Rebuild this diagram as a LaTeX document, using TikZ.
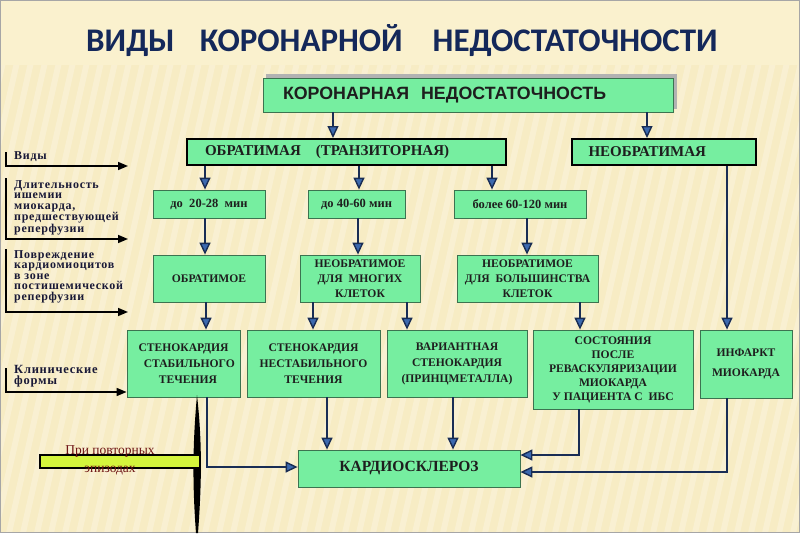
\documentclass[tikz,border=0pt]{standalone}
\usepackage{fontspec}
\setmainfont{Liberation Serif}
\newfontfamily\titlefont{Carlito}
\newfontfamily\boxsans{Liberation Sans}
\newfontfamily\lblfont[LetterSpace=6]{Liberation Serif}
\usetikzlibrary{arrows.meta}
\definecolor{bgc}{RGB}{247,236,196}
\definecolor{bgtop}{RGB}{250,241,206}
\definecolor{gfill}{RGB}{118,238,160}
\definecolor{gbord}{RGB}{60,115,80}
\definecolor{navy}{RGB}{25,45,85}
\definecolor{tipblue}{RGB}{60,105,175}
\definecolor{titlec}{RGB}{20,40,90}
\definecolor{txt}{RGB}{30,30,30}
\definecolor{lblc}{RGB}{25,25,55}
\definecolor{ygreen}{RGB}{212,245,60}
\definecolor{dred}{RGB}{110,20,20}
\begin{document}
\begin{tikzpicture}[x=1pt,y=-1pt,
  gbox/.style={draw=gbord, fill=gfill, line width=0.8, inner sep=0, align=center, text=txt,
    font=\bfseries\fontsize{11.6}{15}\selectfont},
  bbox/.style={draw=black, fill=gfill, line width=2, inner sep=0, text=txt},
  conn/.style={draw=navy, line width=2.8, -{Triangle[length=12pt,width=11pt,fill=tipblue,line width=1.4pt]}},
  lbr/.style={draw=black, line width=1.6, -{Triangle[length=10pt,width=8pt]}},
  lbl/.style={anchor=north west, inner sep=0, align=left, text=lblc,
    font=\lblfont\bfseries\fontsize{12}{10.5}\selectfont}
]
\useasboundingbox (0,0) rectangle (800,533);
\fill[bgc] (0,0) rectangle (800,533);
\fill[bgtop] (0,0) rectangle (800,65);
\begin{scope}
  \clip (0,65) rectangle (800,533);
  \foreach \i in {0,14,...,980} {
    \fill[white,opacity=0.25] (\i-120,533) -- (\i-114,533) -- (\i+6,0) -- (\i,0) -- cycle;
  }
\end{scope}
\draw[gray!70, line width=1] (0.5,0.5) rectangle (799.5,532.5);

% title
\node[font=\titlefont\bfseries\fontsize{33}{38}\selectfont, text=titlec, inner sep=0] (title) at (402,41)
  {ВИДЫ\hspace{25pt}КОРОНАРНОЙ\hspace{30pt}НЕДОСТАТОЧНОСТИ};

% top box with shadow
\fill[gray!60] (266,73.5) rectangle (677,109);
\node[draw=gbord, fill=gfill, line width=0.8, minimum width=410, minimum height=34, text width=370, inner xsep=20, inner ysep=0,
  align=left, text=txt, font=\boxsans\bfseries\fontsize{17.8}{20}\selectfont] (top) at (468,95)
  {КОРОНАРНАЯ\ \ НЕДОСТАТОЧНОСТЬ};

% level 2
\node[bbox, minimum width=319, minimum height=26, text width=283, inner xsep=18, align=left,
  font=\bfseries\fontsize{15}{16}\selectfont] (obr) at (346.5,152) {ОБРАТИМАЯ\ \ \ (ТРАНЗИТОРНАЯ)};
\node[bbox, minimum width=167, minimum height=26, text width=150, inner xsep=17, align=left,
  font=\bfseries\fontsize{15}{16}\selectfont] (neobr) at (663.5,152) {НЕОБРАТИМАЯ};

% durations
\node[gbox, minimum width=112, minimum height=28, font=\bfseries\fontsize{12.5}{15}\selectfont] (t1) at (209,204) {до\ \ 20-28\ \ мин};
\node[gbox, minimum width=97, minimum height=28, font=\bfseries\fontsize{12.5}{15}\selectfont] (t2) at (356.5,204) {до 40-60 мин};
\node[gbox, minimum width=132, minimum height=28, font=\bfseries\fontsize{12.5}{15}\selectfont] (t3) at (520,204) {более 60-120 мин};

% damage
\node[gbox, minimum width=112, minimum height=47] (d1) at (209,278.5) {ОБРАТИМОЕ};
\node[gbox, minimum width=120, minimum height=47] (d2) at (360,278.5) {НЕОБРАТИМОЕ\\ДЛЯ\ \ МНОГИХ\\КЛЕТОК};
\node[gbox, minimum width=141, minimum height=47] (d3) at (527.5,278.5) {НЕОБРАТИМОЕ\\ДЛЯ\ \ БОЛЬШИНСТВА\\КЛЕТОК};

% clinical forms
\node[gbox, minimum width=113, minimum height=67, font=\bfseries\fontsize{11.6}{16}\selectfont] (c1) at (183.5,363.5) {СТЕНОКАРДИЯ\\\ \ \ \ СТАБИЛЬНОГО\\\ \ \ ТЕЧЕНИЯ};
\node[gbox, minimum width=133, minimum height=67, font=\bfseries\fontsize{11.6}{16}\selectfont] (c2) at (313.5,363.5) {СТЕНОКАРДИЯ\\НЕСТАБИЛЬНОГО\\ТЕЧЕНИЯ};
\node[gbox, minimum width=140, minimum height=67, font=\bfseries\fontsize{11.6}{16}\selectfont] (c3) at (457,363.5) {ВАРИАНТНАЯ\\СТЕНОКАРДИЯ\\(ПРИНЦМЕТАЛЛА)};
\node[gbox, minimum width=160, minimum height=79, font=\bfseries\fontsize{11.6}{14}\selectfont] (c4) at (613,369.5)
  {СОСТОЯНИЯ\\ПОСЛЕ\\РЕВАСКУЛЯРИЗАЦИИ\\МИОКАРДА\\У ПАЦИЕНТА С\ \ ИБС};
\node[gbox, minimum width=92, minimum height=68, font=\bfseries\fontsize{11.6}{20}\selectfont] (c5) at (746,364) {ИНФАРКТ\\МИОКАРДА};

% cardiosclerosis
\node[gbox, minimum width=222, minimum height=37, font=\bfseries\fontsize{15.5}{17}\selectfont] (ks) at (409,468.5) {КАРДИОСКЛЕРОЗ};

% connectors
\draw[conn] (top.south -| 333,0) -- (obr.north -| 333,0);
\draw[conn] (top.south -| 647,0) -- (neobr.north -| 647,0);
\draw[conn] (obr.south -| 205,0) -- (t1.north -| 205,0);
\draw[conn] (obr.south -| 359,0) -- (t2.north -| 359,0);
\draw[conn] (obr.south -| 492,0) -- (t3.north -| 492,0);
\draw[conn] (t1.south -| 205,0) -- (d1.north -| 205,0);
\draw[conn] (t2.south -| 358,0) -- (d2.north -| 358,0);
\draw[conn] (t3.south -| 527,0) -- (d3.north -| 527,0);
\draw[conn] (d1.south -| 206,0) -- (c1.north -| 206,0);
\draw[conn] (d2.south -| 313,0) -- (c2.north -| 313,0);
\draw[conn] (d2.south -| 407,0) -- (c3.north -| 407,0);
\draw[conn] (d3.south -| 580,0) -- (c4.north -| 580,0);
\draw[conn] (neobr.south -| 727,0) -- (c5.north -| 727,0);
\draw[conn] (c2.south -| 327,0) -- (ks.north -| 327,0);
\draw[conn] (c3.south -| 453,0) -- (ks.north -| 453,0);
\draw[conn] (c1.south -| 207,0) |- (ks.west |- 0,467);
\draw[conn] (c4.south -| 579,0) |- (ks.east |- 0,455);
\draw[conn] (c5.south -| 727,0) |- (ks.east |- 0,472);

% left labels
\node[lbl, anchor=west] (l1) at (14,157) {Виды};
\coordinate (b1s) at (6,152);
\coordinate (b1e) at (128,166);
\draw[lbr] (b1s) |- (b1e);

\node[lbl] (l2) at (14,180) {Длительность\\ишемии\\миокарда,\\предшествующей\\реперфузии};
\coordinate (b2s) at (6,178);
\coordinate (b2e) at (128,239);
\draw[lbr] (b2s) |- (b2e);

\node[lbl] (l3) at (14,250) {Повреждение\\кардиомиоцитов\\в зоне\\постишемической\\реперфузии};
\coordinate (b3s) at (6,249);
\coordinate (b3e) at (128,312);
\draw[lbr] (b3s) |- (b3e);

\node[lbl, font=\lblfont\bfseries\fontsize{12.5}{11}\selectfont] (l4) at (14,365) {Клинические\\формы};
\coordinate (b4s) at (6,368);
\draw[lbr] (b4s) |- (c1.west |- 0,392);

% repeated episodes
\fill[black] (197,395) .. controls (202,440) and (202,480) .. (198,533) -- (196,533) .. controls (192,480) and (193,440) .. (197,395) -- cycle;
\node[draw=black, fill=ygreen, line width=1.5, minimum width=160, minimum height=13, inner sep=0] (rep) at (120,461.5) {};
\node[text=dred, font=\fontsize{13.5}{13.5}\selectfont, inner sep=0] (rep1) at (110,452) {При повторных};
\node[text=dred, font=\fontsize{13.5}{13.5}\selectfont, inner sep=0] (rep2) at (110,471) {эпизодах};
\end{tikzpicture}
\end{document}
